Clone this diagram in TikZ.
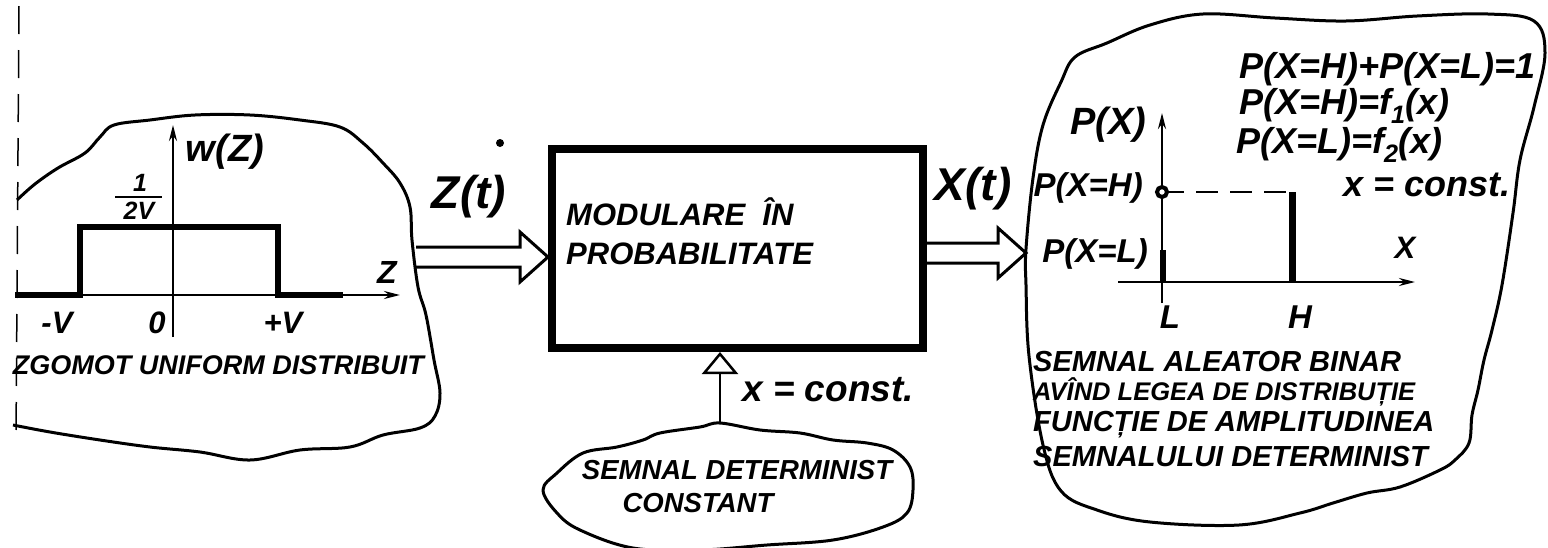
\documentclass[tikz,border=0pt]{standalone}
\usepackage{fontspec}
\setmainfont{Liberation Sans}
\usetikzlibrary{arrows.meta, calc, positioning}

\tikzset{
  blob/.style={line width=3pt, line join=round},
  hand/.style={inner sep=0pt, font={\fontsize{#1}{#1}\selectfont\bfseries\itshape}},
  plotaxis/.style={line width=2.5pt, -{Stealth[length=16pt, width=8pt]}},
  pulse/.style={line width=6pt},
  blockarrow/.style={line width=3pt, line join=miter},
}
\newcommand{\blockarrow}[2]{%
  \draw[blockarrow] let \p1=(#1), \p2=(#2) in
    (\x1,\y2+10pt) -- (\x2-28pt,\y2+10pt) -- (\x2-28pt,\y2+25pt) -- (\x2,\y2)
    -- (\x2-28pt,\y2-25pt) -- (\x2-28pt,\y2-10pt) -- (\x1,\y2-10pt);}

\begin{document}
\begin{tikzpicture}[x=1pt, y=-1pt]
\useasboundingbox (0,0) rectangle (1548,547);

\draw[line width=1.5pt, dash pattern=on 28pt off 16pt] (19,6) -- (16,440);
\draw[blob] plot[smooth, tension=0.6] coordinates {(17,200) (35,184) (58,168) (85,153) (100,137) (114,125) (150,120) (195,115) (250,115) (300,120) (340,127) (363,143) (383,163) (400,183) (410,207) (412,240) (418,287) (426,315) (434,360) (440,393) (435,416) (420,428) (383,435) (350,447) (300,450) (250,460) (200,452) (150,447) (100,440) (50,432) (13,425)};
\draw[plotaxis] (173,337) -- (173,125);
\draw[plotaxis] (15,295) -- (400,295);
\draw[pulse] (15,295) -- (80,295) -- (80,227) -- (278,227) -- (278,295) -- (343,295);
\node[hand=38] (wz) at (225,152) {w(Z)};
\node[hand=25] (one) at (140,183) {1};
\draw[line width=2.5pt] (115,197) -- (162,197);
\node[hand=25] (twov) at (139,211) {2V};
\node[hand=31] (mv) at (57,323) {-V};
\node[hand=31] (zero) at (157,323) {0};
\node[hand=31] (pv) at (283,323) {+V};
\node[hand=32] (zlab) at (387,272) {Z};
\node[hand=27, anchor=east] (noise) at (424,365) {ZGOMOT UNIFORM DISTRIBUIT};

\node[hand=46] (zt) at (469,197) {Z(t)};
\fill (500,143) circle (4);
\node[draw, line width=8pt, minimum width=371pt, minimum height=199pt, inner sep=0pt] (modbox) at (737.5,248.5) {};
\node[hand=31, anchor=west] (modl1) at (566,212) {MODULARE\ \ ÎN};
\node[hand=31, anchor=west] (modl2) at (566,254) {PROBABILITATE};
\coordinate (zin) at (416,257);
\coordinate (ztip) at (modbox.west |- zin);
\blockarrow{zin}{ztip}
\coordinate (xtip) at (1026,253);
\blockarrow{modbox.east}{xtip}
\node[hand=46] (xt) at (973,189) {X(t)};

\coordinate (dettop) at (720,423);
\draw[line width=2.5pt, -{Triangle[open, length=22pt, width=36pt, line width=2.5pt]}] (dettop) -- (dettop |- modbox.south);
\node[hand=37, anchor=west] (xconst) at (742,390) {x = const.};
\draw[blob] plot[smooth cycle, tension=0.6] coordinates {(720,423) (760,430) (800,433) (833,440) (867,443) (893,450) (910,467) (913,490) (907,513) (883,527) (833,540) (767,545) (700,550) (633,548) (580,530) (557,513) (543,490) (557,473) (583,453) (617,447) (643,440) (660,433) (700,427)};
\node[hand=27.5] (det1) at (737,470) {SEMNAL DETERMINIST};
\node[hand=27.5] (det2) at (698,503) {CONSTANT};

\draw[blob] plot[smooth cycle, tension=0.6] coordinates {(1075,57) (1107,43) (1150,25) (1203,14) (1275,18) (1346,21) (1417,16) (1488,14) (1534,21) (1545,53) (1534,107) (1520,160) (1513,213) (1502,285) (1492,330) (1484,360) (1478,390) (1472,415) (1469,443) (1455,460) (1440,470) (1400,487) (1367,493) (1333,503) (1300,513) (1239,525) (1150,522) (1097,510) (1061,491) (1043,445) (1029,356) (1026,285) (1026,249) (1033,178) (1043,125) (1061,82)};
\draw[plotaxis] (1162,303) -- (1162,113);
\draw[plotaxis] (1118,282) -- (1415,282);
\draw[line width=2.5pt, dash pattern=on 22pt off 12pt] (1162,192) -- (1292,192);
\draw[line width=7pt] (1292,192) -- (1292,282);
\draw[line width=6pt] (1163,250) -- (1163,282);
\draw[line width=4pt, fill=white] (1162,192) circle (5);
\node[hand=38] (px) at (1108,125) {P(X)};
\node[hand=33, anchor=east] (pxh) at (1143,188) {P(X=H)};
\node[hand=33, anchor=east] (pxl) at (1148,254) {P(X=L)};
\node[hand=31] (xlab) at (1405,248) {X};
\node[hand=33] (llab) at (1170,317) {L};
\node[hand=33] (hlab) at (1300,317) {H};
\node[hand=36, anchor=west] (eq1) at (1239,69) {P(X=H)+P(X=L)=1};
\node[hand=36, anchor=west] (eq2) at (1239,106) {P(X=H)=f\textsubscript{1}(x)};
\node[hand=36, anchor=west] (eq3) at (1236,145) {P(X=L)=f\textsubscript{2}(x)};
\node[hand=36, anchor=west] (eq4) at (1343,185) {x = const.};
\node[hand=29, anchor=west] (bin1) at (1033,362) {SEMNAL ALEATOR BINAR};
\node[hand=25.5, anchor=west] (bin2) at (1033,392) {AVÎND LEGEA DE DISTRIBUȚIE};
\node[hand=29, anchor=west] (bin3) at (1033,425) {FUNCȚIE DE AMPLITUDINEA};
\node[hand=29, anchor=west] (bin4) at (1033,457) {SEMNALULUI DETERMINIST};
\end{tikzpicture}
\end{document}
